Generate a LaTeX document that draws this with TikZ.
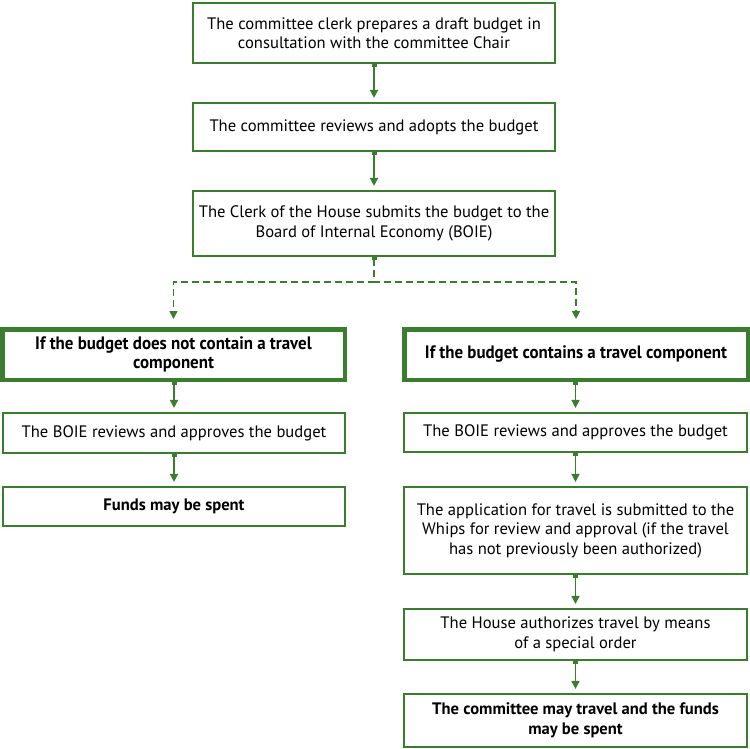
\documentclass[tikz,border=0pt]{standalone}
\usepackage{fontspec}
\setmainfont{PT Sans}
\newfontfamily\condbold[FakeStretch=0.94]{PT Sans Bold}
\usetikzlibrary{arrows.meta}
\definecolor{boxgreen}{RGB}{59,125,46}
\begin{document}
\begin{tikzpicture}[x=1pt,y=-1pt,
    stepbox/.style={draw=boxgreen,line width=1.6pt,align=center,inner sep=0pt,
      font=\fontsize{16.6}{19.5}\selectfont,minimum width=342.5pt},
    condbox/.style={stepbox,line width=4.5pt,font=\condbold\fontsize{18}{19.5}\selectfont},
    flowline/.style={draw=boxgreen,line width=1.6pt,
      {Square[length=5pt,width=5pt]}-{Triangle[length=8pt,width=8pt]},
      shorten <=-2.5pt,shorten >=4pt}]
  \useasboundingbox (0,0) rectangle (750,749);

  \node [stepbox,minimum width=362.5pt,minimum height=60.5pt] (draft) at (374,33)
    {The committee clerk prepares a draft budget in\\consultation with the committee Chair};
  \node [stepbox,minimum width=362.5pt,minimum height=48.5pt] (adopt) at (374,127)
    {The committee reviews and adopts the budget};
  \node [stepbox,minimum width=362.5pt,minimum height=65.5pt] (submit) at (374,223.5)
    {The Clerk of the House submits the budget to the\\Board of Internal Economy (BOIE)};

  \node [condbox,minimum width=342.5pt,minimum height=50.5pt] (notravel) at (173.5,354.5)
    {If the budget does not contain a travel\\component};
  \node [condbox,minimum width=343.5pt,minimum height=50.5pt] (travel) at (576,354.5)
    {If the budget contains a travel component};

  \node [stepbox,minimum width=342.5pt,minimum height=40.5pt] (approveA) at (174,433)
    {The BOIE reviews and approves the budget};
  \node [stepbox,minimum width=342.5pt,minimum height=39.5pt] (funds) at (174,506.5)
    {\bfseries Funds may be spent};

  \node [stepbox,minimum width=343.5pt,minimum height=39.5pt] (approveB) at (575.5,432.5)
    {The BOIE reviews and approves the budget};
  \node [stepbox,minimum width=343.5pt,minimum height=87.5pt] (whips) at (575.5,530.5)
    {The application for travel is submitted to the\\Whips for review and approval (if the travel\\has not previously been authorized)};
  \node [stepbox,minimum width=343.5pt,minimum height=51.5pt] (order) at (575.5,634.5)
    {The House authorizes travel by means\\of a special order};
  \node [stepbox,minimum width=343.5pt,minimum height=53.5pt] (spend) at (575.5,720.5)
    {\bfseries The committee may travel and the funds\\\bfseries may be spent};

  \coordinate (split) at (374,282);

  \draw[flowline] (draft) -- (adopt);
  \draw[flowline] (adopt) -- (submit);
  \draw[flowline,dash pattern=on 7pt off 4pt,shorten >=8pt] (submit.south) -- (split) -| (notravel.north);
  \draw[flowline,dash pattern=on 7pt off 4pt,shorten >=8pt] (submit.south) -- (split) -| (travel.north);

  \draw[flowline] (notravel.south -| approveA.north) -- (approveA.north);
  \draw[flowline] (approveA) -- (funds);

  \draw[flowline] (travel.south -| approveB.north) -- (approveB.north);
  \draw[flowline] (approveB) -- (whips);
  \draw[flowline] (whips) -- (order);
  \draw[flowline] (order) -- (spend);
\end{tikzpicture}
\end{document}
